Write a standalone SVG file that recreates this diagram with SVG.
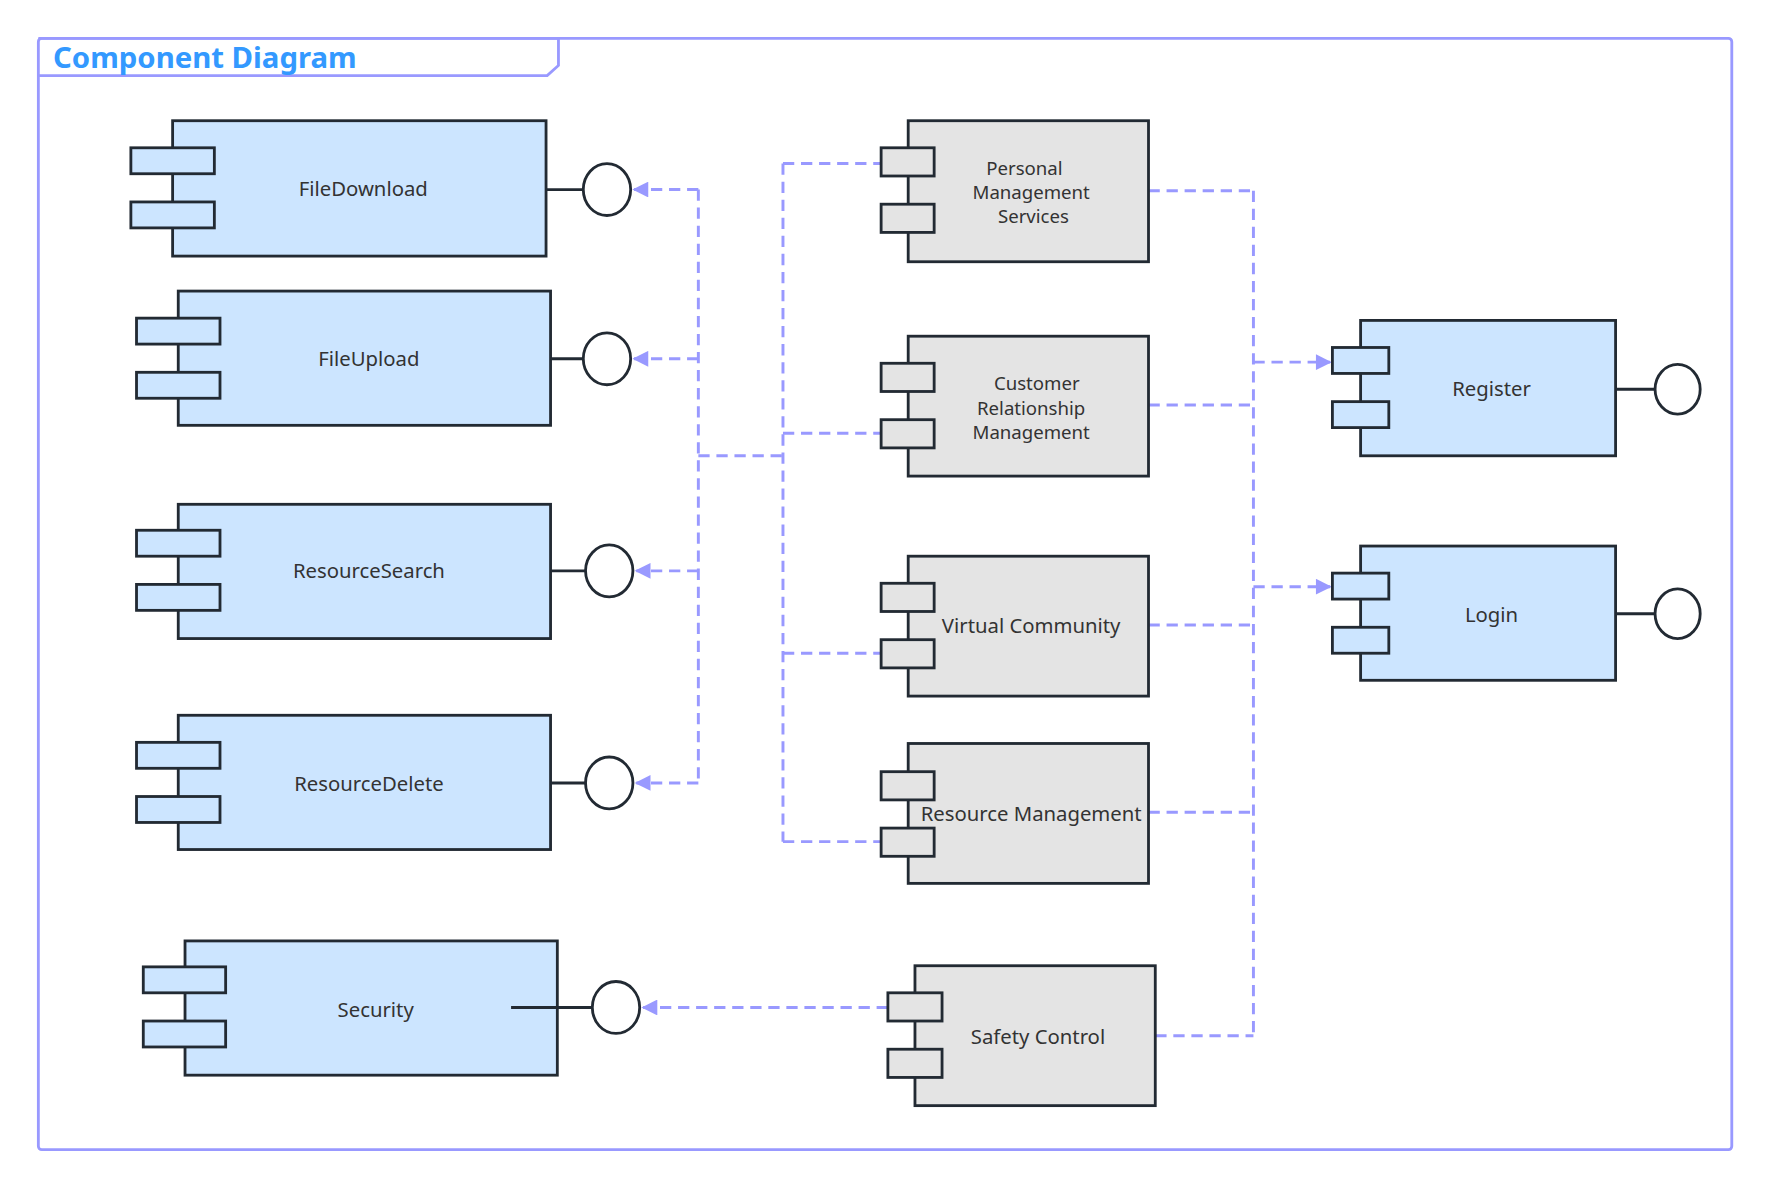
<svg xmlns="http://www.w3.org/2000/svg" width="1769" height="1187" viewBox="0 0 1769 1187">
<style>
.blue{fill:#cce5ff;stroke:#222a33;stroke-width:2.5}
.gray{fill:#e4e4e4;stroke:#222a33;stroke-width:2.5}
.ifc{fill:#fff;stroke:#222a33;stroke-width:2.5}
.lol{stroke:#222a33;stroke-width:2.5}
.lbl{font-family:"Noto Sans","Open Sans",sans-serif;font-size:18px;fill:#333;text-anchor:middle}
.ml{font-size:16.5px}
.dep{fill:none;stroke:#9999ff;stroke-width:2.6;stroke-dasharray:10 6}
</style>
<defs>
<marker id="arb" viewBox="0 0 10 10" refX="9" refY="5" markerWidth="18" markerHeight="14" orient="auto" markerUnits="userSpaceOnUse"><path d="M0,0 L10,5 L0,10 Z" fill="#9999ff"/></marker>
</defs>
<rect width="1769" height="1187" fill="#fff"/>
<g transform="scale(1.1282)">
<g id="frame">
<rect x="34" y="34" width="1501" height="985" rx="3" fill="none" stroke="#9999ff" stroke-width="2.5"/>
<path d="M34,34 H495 V58 L485,67 H34" fill="none" stroke="#9999ff" stroke-width="2.5"/>
<text x="47" y="60" font-family="'Noto Sans','Open Sans',sans-serif" font-size="26" font-weight="bold" fill="#3399ff">Component Diagram</text>
</g>
<g id="connectors">
<path class="dep" d="M619,168 V694"/>
<path class="dep" d="M619,168 H562" marker-end="url(#arb)"/>
<path class="dep" d="M619,318 H562" marker-end="url(#arb)"/>
<path class="dep" d="M619,506 H564" marker-end="url(#arb)"/>
<path class="dep" d="M619,694 H564" marker-end="url(#arb)"/>
<path class="dep" d="M619,404 H694"/>
<path class="dep" d="M694,145 V746"/>
<path class="dep" d="M694,145 H781 M694,384 H781 M694,579 H781 M694,746 H781"/>
<path class="dep" d="M1111,169 V918"/>
<path class="dep" d="M1018,169 H1111 M1018,359 H1111 M1018,554 H1111 M1018,720 H1111 M1024,918 H1111"/>
<path class="dep" d="M1111,321 H1179" marker-end="url(#arb)"/>
<path class="dep" d="M1111,520 H1179" marker-end="url(#arb)"/>
<path class="dep" d="M787,893 H570" marker-end="url(#arb)"/>
</g>
<g id="FileDownload">
<rect class="blue" x="153" y="107" width="331" height="120"/>
<rect class="blue" x="116" y="131" width="74" height="23"/><rect class="blue" x="116" y="179" width="74" height="23"/>
<text class="lbl" x="322" y="174">FileDownload</text>
<line class="lol" x1="484" y1="168" x2="517" y2="168"/><ellipse class="ifc" cx="538" cy="168" rx="21" ry="23"/>
</g>
<g id="FileUpload">
<rect class="blue" x="158" y="258" width="330" height="119"/>
<rect class="blue" x="121" y="282" width="74" height="23"/><rect class="blue" x="121" y="330" width="74" height="23"/>
<text class="lbl" x="327" y="324">FileUpload</text>
<line class="lol" x1="488" y1="318" x2="517" y2="318"/><ellipse class="ifc" cx="538" cy="318" rx="21" ry="23"/>
</g>
<g id="ResourceSearch">
<rect class="blue" x="158" y="447" width="330" height="119"/>
<rect class="blue" x="121" y="470" width="74" height="23"/><rect class="blue" x="121" y="518" width="74" height="23"/>
<text class="lbl" x="327" y="512">ResourceSearch</text>
<line class="lol" x1="488" y1="506" x2="519" y2="506"/><ellipse class="ifc" cx="540" cy="506" rx="21" ry="23"/>
</g>
<g id="ResourceDelete">
<rect class="blue" x="158" y="634" width="330" height="119"/>
<rect class="blue" x="121" y="658" width="74" height="23"/><rect class="blue" x="121" y="706" width="74" height="23"/>
<text class="lbl" x="327" y="701">ResourceDelete</text>
<line class="lol" x1="488" y1="694" x2="519" y2="694"/><ellipse class="ifc" cx="540" cy="694" rx="21" ry="23"/>
</g>
<g id="Security">
<rect class="blue" x="164" y="834" width="330" height="119"/>
<rect class="blue" x="127" y="857" width="73" height="23"/><rect class="blue" x="127" y="905" width="73" height="23"/>
<text class="lbl" x="333" y="901">Security</text>
<line class="lol" x1="453" y1="893" x2="525" y2="893"/><ellipse class="ifc" cx="546" cy="893" rx="21" ry="23"/>
</g>
<g id="PersonalManagementServices">
<rect class="gray" x="805" y="107" width="213" height="125"/>
<rect class="gray" x="781" y="131" width="47" height="25"/><rect class="gray" x="781" y="181" width="47" height="25"/>
<text class="lbl ml" x="914" y="155"><tspan x="908">Personal</tspan><tspan x="914" dy="21.5">Management</tspan><tspan x="916" dy="21.5">Services</tspan></text>
</g>
<g id="CustomerRelationshipManagement">
<rect class="gray" x="805" y="298" width="213" height="124"/>
<rect class="gray" x="781" y="322" width="47" height="25"/><rect class="gray" x="781" y="372" width="47" height="25"/>
<text class="lbl ml" x="919" y="346"><tspan x="919">Customer</tspan><tspan x="914" dy="21.5">Relationship</tspan><tspan x="914" dy="21.5">Management</tspan></text>
</g>
<g id="VirtualCommunity">
<rect class="gray" x="805" y="493" width="213" height="124"/>
<rect class="gray" x="781" y="517" width="47" height="25"/><rect class="gray" x="781" y="567" width="47" height="25"/>
<text class="lbl" x="914" y="561">Virtual Community</text>
</g>
<g id="ResourceManagement">
<rect class="gray" x="805" y="659" width="213" height="124"/>
<rect class="gray" x="781" y="684" width="47" height="25"/><rect class="gray" x="781" y="734" width="47" height="25"/>
<text class="lbl" x="914" y="728">Resource Management</text>
</g>
<g id="SafetyControl">
<rect class="gray" x="811" y="856" width="213" height="124"/>
<rect class="gray" x="787" y="880" width="48" height="25"/><rect class="gray" x="787" y="930" width="48" height="25"/>
<text class="lbl" x="920" y="925">Safety Control</text>
</g>
<g id="Register">
<rect class="blue" x="1206" y="284" width="226" height="120"/>
<rect class="blue" x="1181" y="308" width="50" height="23"/><rect class="blue" x="1181" y="356" width="50" height="23"/>
<text class="lbl" x="1322" y="351">Register</text>
<line class="lol" x1="1432" y1="345" x2="1467" y2="345"/><ellipse class="ifc" cx="1487" cy="345" rx="20" ry="22"/>
</g>
<g id="Login">
<rect class="blue" x="1206" y="484" width="226" height="119"/>
<rect class="blue" x="1181" y="508" width="50" height="23"/><rect class="blue" x="1181" y="556" width="50" height="23"/>
<text class="lbl" x="1322" y="551">Login</text>
<line class="lol" x1="1432" y1="544" x2="1467" y2="544"/><ellipse class="ifc" cx="1487" cy="544" rx="20" ry="22"/>
</g>
</g>
</svg>
